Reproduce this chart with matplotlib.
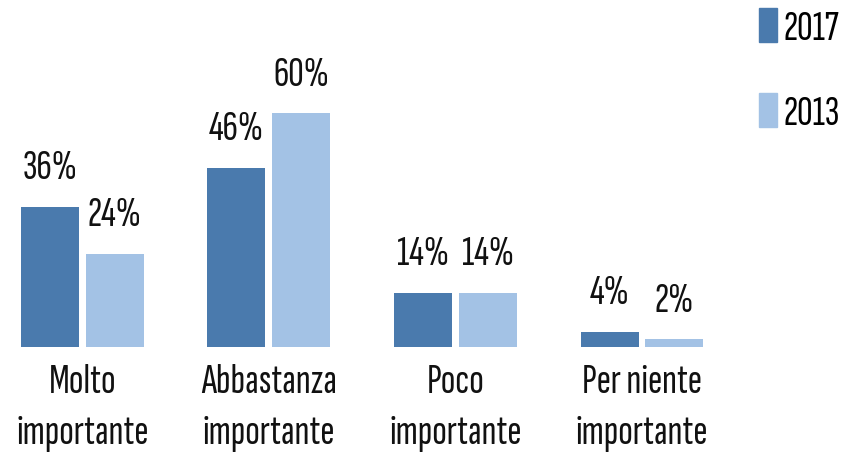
import matplotlib
matplotlib.use("Agg")
import matplotlib.pyplot as plt
from matplotlib.patches import Patch
import numpy as np

# dati
categorie = ["Molto\nimportante", "Abbastanza\nimportante", "Poco\nimportante", "Per niente\nimportante"]
anni = ["2017", "2013"]
val_2017 = [36, 46, 14, 4]
val_2013 = [24, 60, 14, 2]

col_2017 = "#4a7aad"
col_2013 = "#a3c2e5"

plt.rcParams["font.family"] = ["Sofia Sans Extra Condensed", "DejaVu Sans"]
fs = 31

fig = plt.figure(figsize=(8.6, 4.61), dpi=100)
ax = fig.add_axes([0.0, 0.247, 1.0, 0.753])

x = np.arange(len(categorie))
w = 0.311
off = 0.174
b1 = ax.bar(x - off, val_2017, w, color=col_2017)
b2 = ax.bar(x + off, val_2013, w, color=col_2013)

# etichette sopra le barre
for bars, vals in [(b1, val_2017), (b2, val_2013)]:
    for r, v in zip(bars, vals):
        ax.annotate(f"{v}%", (r.get_x() + r.get_width() / 2, v),
                    xytext=(0, 14), textcoords="offset points",
                    ha="center", va="bottom", fontsize=fs, color="#111111")

ax.set_xlim(-0.442, 4.169)
ax.set_ylim(0, 89)
ax.set_xticks(x)
ax.set_xticklabels(categorie, fontsize=fs, linespacing=1.5, color="#111111")
ax.tick_params(axis="x", length=0, pad=12)
ax.set_yticks([])
for s in ax.spines.values():
    s.set_visible(False)

handles = [Patch(color=col_2017), Patch(color=col_2013)]
ax.legend(handles, anni, loc="upper right", bbox_to_anchor=(1.012, 1.065),
          frameon=False, fontsize=fs, handlelength=0.42, handleheight=0.85,
          handletextpad=0.15, labelspacing=1.05, borderaxespad=0.3)

fig.savefig("out.png", dpi=100)
